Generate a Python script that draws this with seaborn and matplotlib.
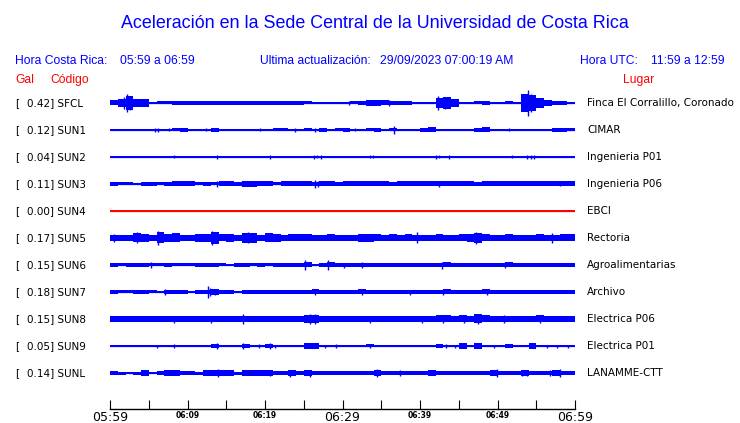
#!/usr/bin/env python3
"""Acelerogramas de la Sede Central UCR - recreación del panel de 1 hora."""
import matplotlib
matplotlib.use("Agg")
import matplotlib.pyplot as plt
import numpy as np
import pandas as pd
import seaborn as sns

W, H = 740, 423

CODES = ["SFCL", "SUN1", "SUN2", "SUN3", "SUN4", "SUN5", "SUN6", "SUN7", "SUN8", "SUN9", "SUNL"]
GAL = [0.42, 0.12, 0.04, 0.11, 0.00, 0.17, 0.15, 0.18, 0.15, 0.05, 0.14]
PLACES = ["Finca El Corralillo, Coronado", "CIMAR", "Ingenieria P01", "Ingenieria P06", "EBCI",
          "Rectoria", "Agroalimentarias", "Archivo", "Electrica P06", "Electrica P01", "LANAMME-CTT"]
TICK_LABELS = ["05:59", "06:09", "06:19", "06:29", "06:39", "06:49", "06:59"]

# half-amplitude of the trace envelope (px) for each minute 05:59 -> 06:59
ENV = {
    "SFCL": [2.5, 4, 7, 4, 4, 1, 1.5, 1.5, 2, 2, 2, 2, 2, 2, 2, 2, 2, 2, 2, 2, 2, 2, 2, 2, 2, 1.5, 1, 0.5, 1, 0.5,
             1, 1.5, 2, 3, 3, 2.5, 2, 2, 2, 0.5, 0.5, 1, 5, 6, 4, 1, 0.5, 1.5, 2, 0.5, 0.5, 1.5, 1, 9, 8, 5, 3, 2, 2, 0.5],
    "SUN1": [0.5, 0.5, 0.5, 0.5, 0.5, 0.5, 0.5, 0.5, 1.5, 2, 0.5, 0.5, 0.5, 2, 0.5, 0.5, 0.5, 0.5, 0.5, 0.5, 0.5, 1.5,
             1.5, 0.5, 0.5, 1.5, 1, 2, 0.5, 1.5, 2, 1, 0.5, 1.5, 2, 0.5, 1.5, 0.5, 0.5, 0.5, 2, 2.5, 0.5, 0.5, 0.5, 0.5,
             0.5, 2, 2.5, 0.5, 0.5, 0.5, 0.5, 0.5, 0.5, 0.5, 0.5, 2, 2, 1.5],
    "SUN2": [0.5] * 60,
    "SUN3": [2, 1.5, 1.5, 1, 2, 2, 1.5, 2, 2.5, 2.5, 2.5, 1.5, 2, 1.5, 2.5, 2.5, 2, 3, 3, 2.5, 2.5, 1.5, 2.5, 2.5, 2.5,
             2.5, 2, 2.5, 2.5, 2, 2.5, 2.5, 2.5, 2.5, 2.5, 2.5, 2, 2.5, 2.5, 2.5, 2.5, 2.5, 2.5, 2.5, 2.5, 2.5, 2.5, 2,
             2.5, 2.5, 2.5, 2.5, 2.5, 2.5, 2.5, 2.5, 2.5, 2.5, 2.5, 2.5],
    "SUN4": [0.5] * 60,
    "SUN5": [3, 3, 3, 4.5, 4, 3, 5.5, 4, 4.5, 3, 3, 4, 4, 6, 3.5, 4, 3, 5, 5, 3, 4.5, 4, 3, 3.5, 3.5, 3.5, 3, 3, 3.5, 3,
             3, 3, 4, 4, 3.5, 3, 3.5, 3, 3.5, 3, 3, 3, 3.5, 3, 3, 3.5, 4, 5, 3.5, 3, 3, 3.5, 3, 3, 3, 3.5, 3, 3, 3.5, 3.5],
    "SUN6": [2, 1.5, 2, 2, 2, 1.5, 1.5, 2, 1.5, 1.5, 1.5, 2, 2, 2, 1.5, 1, 2, 2, 1.5, 2, 1.5, 2, 2, 2, 2, 2.5, 1, 2,
             2.5, 2, 2, 2, 2, 2, 2, 2, 2, 2, 2, 2, 2, 2, 2, 2.5, 2, 2, 2, 2, 2, 2, 2, 2.5, 2, 2, 2, 2, 2, 2, 2, 2],
    "SUN7": [2, 1.5, 1.5, 2, 2, 1.5, 1, 2, 2, 2, 1, 2, 2, 3, 2, 2, 1, 2, 2, 2, 2, 2, 2, 2, 2, 2, 2.5, 2, 2, 2,
             2, 2, 2.5, 2, 2, 2, 2, 2, 2, 2, 2, 2, 2, 2.5, 2, 2, 2, 2, 2.5, 2, 2, 2, 2, 2, 2, 2, 2, 2, 2, 2],
    "SUN8": [2.5, 2.5, 2.5, 2.5, 2.5, 2.5, 2.5, 2.5, 2.5, 2.5, 2.5, 2.5, 2.5, 3, 2.5, 2.5, 2.5, 2.5, 2.5, 3, 3, 2.5,
             2.5, 2.5, 2.5, 4, 4, 2.5, 2.5, 2.5, 2.5, 2.5, 2.5, 2.5, 2.5, 2.5, 2.5, 2.5, 2.5, 2.5, 3, 2.5, 3.5, 3.5, 2.5,
             3.5, 2.5, 4.5, 3.5, 2.5, 2.5, 3, 3, 3, 3, 3.5, 2.5, 2.5, 3, 2.5],
    "SUN9": [0.5, 0.5, 0.5, 0.5, 0.5, 0.5, 0.5, 0.5, 0.5, 0.5, 0.5, 0.5, 0.5, 2, 0.5, 0.5, 0.5, 2, 0.5, 0.5, 2, 0.5,
             0.5, 0.5, 0.5, 2.5, 2.5, 0.5, 0.5, 0.5, 0.5, 0.5, 0.5, 1.5, 0.5, 0.5, 0.5, 0.5, 0.5, 0.5, 0.5, 0.5, 2, 0.5,
             0.5, 2.5, 0.5, 2.5, 0.5, 0.5, 0.5, 2, 0.5, 0.5, 2.5, 0.5, 0.5, 0.5, 0.5, 0.5],
    "SUNL": [2, 1.5, 1, 1.5, 2.5, 1, 2, 2.5, 2.5, 2, 2, 1.5, 2.5, 3, 2.5, 2.5, 1.5, 2.5, 2.5, 2.5, 2.5, 2, 2, 2.5, 2,
             2.5, 2, 2, 2, 2, 2, 2, 2, 2, 2.5, 2, 2, 2, 2, 2, 2, 2.5, 2, 2, 2, 2, 2, 2, 2, 2.5, 2, 2, 2, 2.5, 2, 2, 2, 2.5,
             2, 2],
}

# isolated peaks: (minute, half-height px)
SPIKES = {
    "SFCL": [(1.8, 6), (2.2, 9), (2.6, 7), (30.8, 2), (36.0, 3), (42.3, 7), (43.2, 6), (53.9, 13), (54.3, 9)],
    "SUN1": [(5.8, 2), (6.2, 2), (7.6, 1.5), (12.4, 1.5), (19.4, 1.5), (23.9, 2), (26.5, 2), (31.6, 1.5),
             (36.6, 4), (51.5, 1.5)],
    "SUN2": [(8.3, 1.5), (13.8, 2), (20.6, 2), (26.3, 2), (26.7, 1.5), (27.2, 2), (33.5, 1.5), (33.9, 1.5),
             (42.1, 2), (42.5, 1.5), (43.7, 2), (51.9, 1.5), (53.8, 2), (54.3, 2), (54.7, 2)],
    "SUN3": [(13.8, 3), (26.5, 4), (26.8, 3), (42.5, 3), (58.0, 2.5)],
    "SUN4": [],
    "SUN5": [(0.5, 4), (3.5, 5.5), (6.2, 7), (13.1, 7), (17.8, 5.5), (39.6, 5.5), (47.2, 6), (57.0, 5)],
    "SUN6": [(5.3, 3), (25.2, 4.5), (28.1, 5), (30.2, 2.5), (32.5, 3), (42.9, 3.5), (51.0, 3)],
    "SUN7": [(7.1, 3), (12.6, 6), (12.9, 4), (13.5, 3), (26.5, 3), (32.5, 3), (38.7, 2.5), (43.0, 3), (48.6, 3)],
    "SUN8": [(8.2, 3.5), (13.0, 3.5), (17.2, 5), (25.8, 5), (26.4, 5), (33.5, 3.5), (40.3, 3.5), (43.0, 4),
             (45.7, 4), (47.5, 5), (50.9, 4), (55.5, 4)],
    "SUN9": [(6.1, 1.5), (8.2, 2), (13.8, 2.5), (17.2, 2.5), (19.2, 2), (20.6, 2.5), (21.3, 1.5), (27.7, 1.5),
             (29.2, 2), (33.5, 2), (43.4, 2), (44.5, 1.5), (49.5, 1.5), (56.4, 1.5), (57.7, 1.5), (59.1, 1.5)],
    "SUNL": [(13.9, 4.5), (20.6, 3), (23.2, 3.5), (25.8, 3.5), (34.5, 4), (37.4, 3), (49.9, 4), (53.2, 3),
             (53.8, 3), (56.8, 3), (58.0, 4)],
}

BLUE = "#0000ff"
RED = "#ff0000"
ROW_PX = 27.0


def fx(x):
    return x / W


def fy(y):
    return 1 - y / H


def main():
    sns.set_theme(style="white")
    plt.rcParams["font.family"] = ["DejaVu Sans"]

    fig = plt.figure(figsize=(W / 100, H / 100), dpi=100)
    fig.patch.set_facecolor("white")
    # traces area: x 110..575 px, y 90..409 px
    ax = fig.add_axes([fx(110), fy(409), (575 - 110) / W, (409 - 90) / H])
    ax.set_facecolor("white")

    minutes = np.arange(61)
    for i, code in enumerate(CODES):
        color = RED if code == "SUN4" else BLUE
        base = pd.DataFrame({"t": [0, 60], "y": [i, i]})
        sns.lineplot(data=base, x="t", y="y", color=color, lw=0.9, ax=ax, legend=False)
        env = np.array(ENV[code] + [ENV[code][-1]]) / ROW_PX
        ax.fill_between(minutes, i - env, i + env, step="post", color=color, lw=0, alpha=1)
        if SPIKES[code]:
            t, a = zip(*SPIKES[code])
            a = np.array(a) / ROW_PX
            ax.vlines(t, i - a, i + a, color=color, lw=1.0)

    ax.set_xlim(0, 60)
    ax.set_ylim((409 - 103) / ROW_PX, (90 - 103) / ROW_PX)
    for s in ["left", "right", "top"]:
        ax.spines[s].set_visible(False)
    ax.spines["bottom"].set_color("black")
    ax.spines["bottom"].set_linewidth(1.0)
    ax.set_yticks([])
    ax.set_xlabel("")
    ax.set_ylabel("")
    ax.set_xticks(range(0, 61, 10))
    ax.set_xticks(range(5, 60, 10), minor=True)
    ax.set_xticklabels(TICK_LABELS)
    ax.tick_params(axis="x", which="both", direction="in", length=6.5, width=0.8, color="black",
                   bottom=True, pad=1.5)
    for k, lbl in enumerate(ax.get_xticklabels()):
        if k in (0, 3, 6):
            lbl.set_fontsize(9)
        else:
            lbl.set_fontsize(5.5)
            lbl.set_fontweight("bold")
        lbl.set_color("black")

    # header texts
    hf = dict(family="Liberation Sans", color=BLUE, va="center", fontsize=8.7)
    fig.text(fx(375), fy(23), "Aceleración en la Sede Central de la Universidad de Costa Rica",
             ha="center", va="center", color=BLUE, family="Liberation Sans", fontsize=12.9)
    fig.text(fx(15), fy(61), "Hora Costa Rica:", **hf)
    fig.text(fx(120), fy(61), "05:59 a 06:59", **hf)
    fig.text(fx(260), fy(61), "Ultima actualización:", **hf)
    fig.text(fx(380), fy(61), "29/09/2023 07:00:19 AM", **hf)
    fig.text(fx(580), fy(61), "Hora UTC:", **hf)
    fig.text(fx(651), fy(61), "11:59 a 12:59", **hf)
    rf = dict(family="Liberation Sans", color=RED, va="center", fontsize=8.7)
    fig.text(fx(15), fy(80), "Gal", **rf)
    fig.text(fx(50), fy(80), "Código", **rf)
    fig.text(fx(623), fy(80), "Lugar", **rf)

    for i, code in enumerate(CODES):
        y = 103 + ROW_PX * i
        fig.text(fx(15), fy(y), "[", fontsize=7.5, va="center", color="black")
        fig.text(fx(27), fy(y), f"{GAL[i]:.2f}] {code}", fontsize=7.5, va="center", color="black")
        fig.text(fx(587), fy(y), PLACES[i], fontsize=7.5, va="center", color="black")

    fig.savefig("out.png", dpi=100, facecolor="white")
    plt.close(fig)


if __name__ == "__main__":
    main()
